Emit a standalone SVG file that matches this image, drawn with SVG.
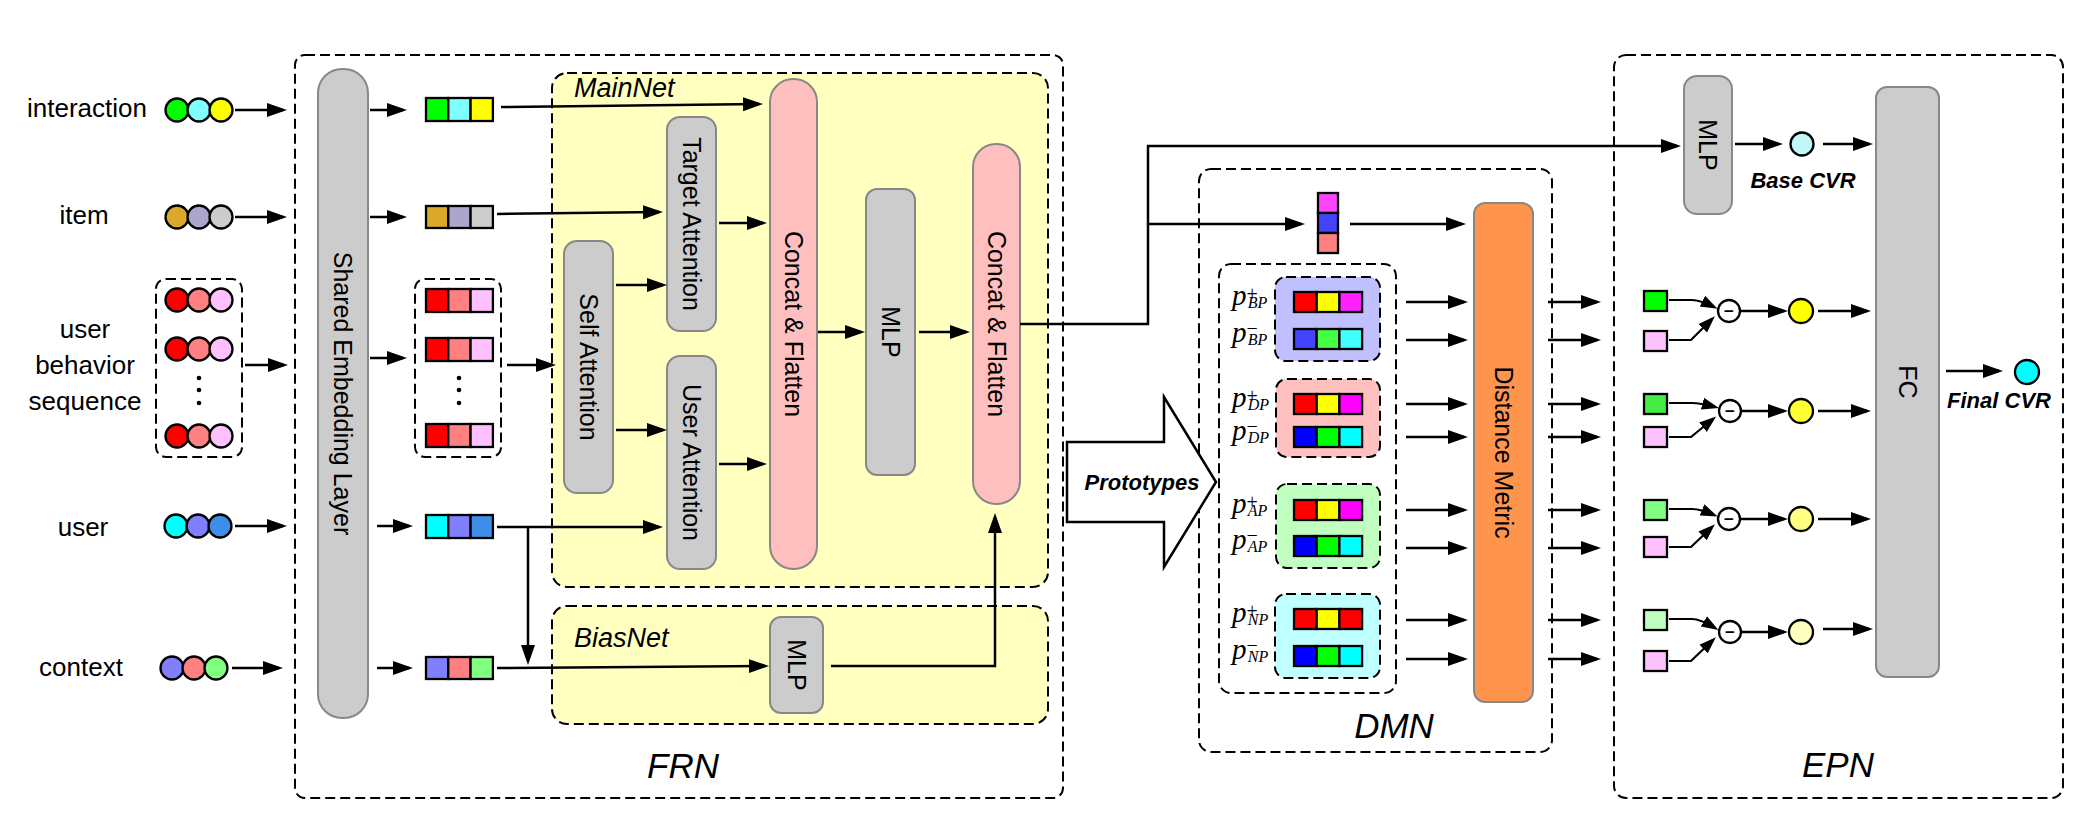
<svg xmlns="http://www.w3.org/2000/svg" width="2091" height="822" viewBox="0 0 2091 822">
<defs>
<marker id="ah" markerUnits="userSpaceOnUse" markerWidth="22" markerHeight="16" refX="16" refY="8" orient="auto"><path d="M0,1 L20,8 L0,15 Z" fill="#000"/></marker>
<marker id="ahs" markerUnits="userSpaceOnUse" markerWidth="18" markerHeight="14" refX="13" refY="7" orient="auto"><path d="M0,1 L17,7 L0,13 Z" fill="#000"/></marker>
</defs>
<style>
text{font-family:"Liberation Sans",Arial,Helvetica,sans-serif;fill:#000}
.lab{font-size:26px;text-anchor:middle}
.rot{font-size:25px;text-anchor:middle;dominant-baseline:central}
.big{font-size:35px;font-style:italic;text-anchor:middle}
.net{font-size:27px;font-style:italic}
.bi{font-size:22px;font-style:italic;font-weight:bold;text-anchor:middle}
.dash{fill:none;stroke:#000;stroke-width:2;stroke-dasharray:10 5}
.ybox{fill:#FFFFC0;stroke:#000;stroke-width:2;stroke-dasharray:10 5}
.gray{fill:#CCCCCC;stroke:#888;stroke-width:2}
.pink{fill:#FFBFBF;stroke:#888;stroke-width:2}
.ob{stroke:#000;stroke-width:2.3}
.cn{fill:none;stroke:#000;stroke-width:2.5;marker-end:url(#ah)}
.cs{fill:none;stroke:#000;stroke-width:2.2;marker-end:url(#ahs)}
.pm{font-family:"Liberation Serif","Times New Roman",serif;font-style:italic;font-size:29px}
.sp{font-style:normal;font-size:20px}
.sb{font-size:16px}
.op{font-size:17px;font-weight:bold;text-anchor:middle}
.dot{fill:#000}
</style>
<rect width="2091" height="822" fill="#fff"/>

<!-- containers -->
<g id="frn">
<rect class="dash" x="295" y="55" width="768" height="743" rx="10"/>
<text class="big" x="683" y="778">FRN</text>
</g>
<g id="mainnet">
<rect class="ybox" x="552" y="73" width="496" height="514" rx="15"/>
<text class="net" x="574" y="97">MainNet</text>
</g>
<g id="biasnet">
<rect class="ybox" x="552" y="606" width="496" height="118" rx="15"/>
<text class="net" x="574" y="647">BiasNet</text>
</g>
<g id="dmn">
<rect class="dash" x="1199" y="169" width="353" height="583" rx="12"/>
<text class="big" x="1394" y="738">DMN</text>
</g>
<g id="epn">
<rect class="dash" x="1614" y="55" width="449" height="743" rx="12"/>
<text class="big" x="1838" y="777">EPN</text>
</g>

<!-- inputs -->
<g id="in-interaction">
<text class="lab" x="87" y="117">interaction</text>
<circle class="ob" cx="177" cy="110" r="11.5" fill="#00FF00"/>
<circle class="ob" cx="199" cy="110" r="11.5" fill="#80FFFF"/>
<circle class="ob" cx="221" cy="110" r="11.5" fill="#FFFF00"/>
</g>
<g id="in-item">
<text class="lab" x="84" y="224">item</text>
<circle class="ob" cx="177" cy="217" r="11.5" fill="#DAA82A"/>
<circle class="ob" cx="199" cy="217" r="11.5" fill="#ABA6CC"/>
<circle class="ob" cx="221" cy="217" r="11.5" fill="#CCCCCC"/>
</g>
<g id="in-seq">
<text class="lab" x="85" y="338">user</text>
<text class="lab" x="85" y="374">behavior</text>
<text class="lab" x="85" y="410">sequence</text>
<rect class="dash" x="156" y="279" width="86" height="178" rx="10"/>
<circle class="ob" cx="177" cy="300" r="11.5" fill="#FF0000"/>
<circle class="ob" cx="199" cy="300" r="11.5" fill="#FF8080"/>
<circle class="ob" cx="221" cy="300" r="11.5" fill="#FFC0FF"/>
<circle class="ob" cx="177" cy="349" r="11.5" fill="#FF0000"/>
<circle class="ob" cx="199" cy="349" r="11.5" fill="#FF8080"/>
<circle class="ob" cx="221" cy="349" r="11.5" fill="#FFC0FF"/>
<circle class="dot" cx="199" cy="378" r="2.3"/>
<circle class="dot" cx="199" cy="390" r="2.3"/>
<circle class="dot" cx="199" cy="403" r="2.3"/>
<circle class="ob" cx="177" cy="436" r="11.5" fill="#FF0000"/>
<circle class="ob" cx="199" cy="436" r="11.5" fill="#FF8080"/>
<circle class="ob" cx="221" cy="436" r="11.5" fill="#FFC0FF"/>
</g>
<g id="in-user">
<text class="lab" x="83" y="536">user</text>
<circle class="ob" cx="176" cy="526" r="11.5" fill="#00FFFF"/>
<circle class="ob" cx="198" cy="526" r="11.5" fill="#8080FF"/>
<circle class="ob" cx="220" cy="526" r="11.5" fill="#3D8EE8"/>
</g>
<g id="in-context">
<text class="lab" x="81" y="676">context</text>
<circle class="ob" cx="172" cy="668" r="11.5" fill="#8080FF"/>
<circle class="ob" cx="194" cy="668" r="11.5" fill="#FF8080"/>
<circle class="ob" cx="216" cy="668" r="11.5" fill="#80FF80"/>
</g>

<g id="shared-embedding">
<rect class="gray" x="318" y="69" width="50" height="649" rx="24"/>
<text class="rot" transform="translate(343,393.5) rotate(90)">Shared Embedding Layer</text>
</g>

<!-- embeddings -->
<g id="emb-interaction">
<rect class="ob" x="426" y="98" width="22.3" height="23" fill="#00FF00"/>
<rect class="ob" x="448.3" y="98" width="22.3" height="23" fill="#80FFFF"/>
<rect class="ob" x="470.6" y="98" width="22.3" height="23" fill="#FFFF00"/>
</g>
<g id="emb-item">
<rect class="ob" x="426" y="206" width="22.3" height="22" fill="#DAA82A"/>
<rect class="ob" x="448.3" y="206" width="22.3" height="22" fill="#ABA6CC"/>
<rect class="ob" x="470.6" y="206" width="22.3" height="22" fill="#CCCCCC"/>
</g>
<g id="emb-seq">
<rect class="dash" x="415" y="279" width="86" height="178" rx="10"/>
<rect class="ob" x="426" y="289" width="22.3" height="23" fill="#FF0000"/>
<rect class="ob" x="448.3" y="289" width="22.3" height="23" fill="#FF8080"/>
<rect class="ob" x="470.6" y="289" width="22.3" height="23" fill="#FFC0FF"/>
<rect class="ob" x="426" y="338" width="22.3" height="23" fill="#FF0000"/>
<rect class="ob" x="448.3" y="338" width="22.3" height="23" fill="#FF8080"/>
<rect class="ob" x="470.6" y="338" width="22.3" height="23" fill="#FFC0FF"/>
<circle class="dot" cx="459" cy="378" r="2.3"/>
<circle class="dot" cx="459" cy="390" r="2.3"/>
<circle class="dot" cx="459" cy="403" r="2.3"/>
<rect class="ob" x="426" y="424" width="22.3" height="23" fill="#FF0000"/>
<rect class="ob" x="448.3" y="424" width="22.3" height="23" fill="#FF8080"/>
<rect class="ob" x="470.6" y="424" width="22.3" height="23" fill="#FFC0FF"/>
</g>
<g id="emb-user">
<rect class="ob" x="426" y="515" width="22.3" height="23" fill="#00FFFF"/>
<rect class="ob" x="448.3" y="515" width="22.3" height="23" fill="#8080FF"/>
<rect class="ob" x="470.6" y="515" width="22.3" height="23" fill="#3D8EE8"/>
</g>
<g id="emb-context">
<rect class="ob" x="426" y="657" width="22.3" height="22" fill="#8080FF"/>
<rect class="ob" x="448.3" y="657" width="22.3" height="22" fill="#FF8080"/>
<rect class="ob" x="470.6" y="657" width="22.3" height="22" fill="#80FF80"/>
</g>

<!-- FRN blocks -->
<g id="self-attention">
<rect class="gray" x="564" y="241" width="49" height="252" rx="13"/>
<text class="rot" transform="translate(588.5,367) rotate(90)">Self Attention</text>
</g>
<g id="target-attention">
<rect class="gray" x="667" y="117" width="49" height="214" rx="13"/>
<text class="rot" transform="translate(691.5,224) rotate(90)">Target Attention</text>
</g>
<g id="user-attention">
<rect class="gray" x="667" y="356" width="49" height="213" rx="13"/>
<text class="rot" transform="translate(691.5,462.5) rotate(90)">User Attention</text>
</g>
<g id="concat1">
<rect class="pink" x="770" y="79" width="47" height="490" rx="23"/>
<text class="rot" transform="translate(793.5,324) rotate(90)">Concat &amp; Flatten</text>
</g>
<g id="mlp-main">
<rect class="gray" x="866" y="189" width="49" height="286" rx="11"/>
<text class="rot" transform="translate(890.5,332) rotate(90)">MLP</text>
</g>
<g id="concat2">
<rect class="pink" x="973" y="144" width="47" height="360" rx="23"/>
<text class="rot" transform="translate(996.5,324) rotate(90)">Concat &amp; Flatten</text>
</g>
<g id="mlp-bias">
<rect class="gray" x="770" y="617" width="53" height="96" rx="11"/>
<text class="rot" transform="translate(796.5,665) rotate(90)">MLP</text>
</g>

<!-- Prototypes arrow -->
<g id="prototypes">
<polygon points="1067,442 1164,442 1164,397 1216,482 1164,567 1164,522 1067,522" fill="#fff" stroke="#000" stroke-width="2.5" stroke-linejoin="miter"/>
<text class="bi" x="1142" y="490">Prototypes</text>
</g>

<!-- DMN -->
<g id="user-vector">
<rect class="ob" x="1318" y="193" width="20" height="20" fill="#FF44FF"/>
<rect class="ob" x="1318" y="213" width="20" height="20" fill="#4444FF"/>
<rect class="ob" x="1318" y="233" width="20" height="20" fill="#FF8080"/>
</g>
<g id="prototype-set">
<rect class="dash" x="1219" y="264" width="177" height="429" rx="12"/>
</g>
<g id="proto-bp">
<rect class="dash" x="1275" y="277" width="105" height="84" rx="11" style="fill:#C0C0FF"/>
<rect class="ob" x="1294" y="292" width="22.7" height="20" fill="#FF0000"/>
<rect class="ob" x="1316.7" y="292" width="22.7" height="20" fill="#FFFF00"/>
<rect class="ob" x="1339.4" y="292" width="22.7" height="20" fill="#FF22FF"/>
<rect class="ob" x="1294" y="329" width="22.7" height="20" fill="#4444FF"/>
<rect class="ob" x="1316.7" y="329" width="22.7" height="20" fill="#44FF44"/>
<rect class="ob" x="1339.4" y="329" width="22.7" height="20" fill="#44FFFF"/>
<text class="pm" x="1232" y="305">p<tspan class="sp" dx="0" dy="-4">+</tspan><tspan class="sb" dx="-10" dy="7">BP</tspan></text>
<text class="pm" x="1232" y="342">p<tspan class="sp" dx="0" dy="-7">−</tspan><tspan class="sb" dx="-10" dy="10">BP</tspan></text>
</g>
<g id="proto-dp">
<rect class="dash" x="1276" y="379" width="104" height="78" rx="11" style="fill:#FFC0C0"/>
<rect class="ob" x="1294" y="394" width="22.7" height="20" fill="#FF0000"/>
<rect class="ob" x="1316.7" y="394" width="22.7" height="20" fill="#FFFF00"/>
<rect class="ob" x="1339.4" y="394" width="22.7" height="20" fill="#FF00FF"/>
<rect class="ob" x="1294" y="427" width="22.7" height="20" fill="#0000FF"/>
<rect class="ob" x="1316.7" y="427" width="22.7" height="20" fill="#00FF00"/>
<rect class="ob" x="1339.4" y="427" width="22.7" height="20" fill="#00FFFF"/>
<text class="pm" x="1232" y="407">p<tspan class="sp" dx="0" dy="-4">+</tspan><tspan class="sb" dx="-10" dy="7">DP</tspan></text>
<text class="pm" x="1232" y="440">p<tspan class="sp" dx="0" dy="-7">−</tspan><tspan class="sb" dx="-10" dy="10">DP</tspan></text>
</g>
<g id="proto-ap">
<rect class="dash" x="1276" y="484" width="104" height="84" rx="11" style="fill:#C0FFC0"/>
<rect class="ob" x="1294" y="500" width="22.7" height="20" fill="#FF0000"/>
<rect class="ob" x="1316.7" y="500" width="22.7" height="20" fill="#FFFF00"/>
<rect class="ob" x="1339.4" y="500" width="22.7" height="20" fill="#FF00FF"/>
<rect class="ob" x="1294" y="536" width="22.7" height="20" fill="#0000FF"/>
<rect class="ob" x="1316.7" y="536" width="22.7" height="20" fill="#00FF00"/>
<rect class="ob" x="1339.4" y="536" width="22.7" height="20" fill="#00FFFF"/>
<text class="pm" x="1232" y="513">p<tspan class="sp" dx="0" dy="-4">+</tspan><tspan class="sb" dx="-10" dy="7">AP</tspan></text>
<text class="pm" x="1232" y="549">p<tspan class="sp" dx="0" dy="-7">−</tspan><tspan class="sb" dx="-10" dy="10">AP</tspan></text>
</g>
<g id="proto-np">
<rect class="dash" x="1275" y="594" width="105" height="84" rx="11" style="fill:#C0FFFF"/>
<rect class="ob" x="1294" y="609" width="22.7" height="20" fill="#FF0000"/>
<rect class="ob" x="1316.7" y="609" width="22.7" height="20" fill="#FFFF00"/>
<rect class="ob" x="1339.4" y="609" width="22.7" height="20" fill="#FF0000"/>
<rect class="ob" x="1294" y="646" width="22.7" height="20" fill="#0000FF"/>
<rect class="ob" x="1316.7" y="646" width="22.7" height="20" fill="#00FF00"/>
<rect class="ob" x="1339.4" y="646" width="22.7" height="20" fill="#00FFFF"/>
<text class="pm" x="1232" y="622">p<tspan class="sp" dx="0" dy="-4">+</tspan><tspan class="sb" dx="-10" dy="7">NP</tspan></text>
<text class="pm" x="1232" y="659">p<tspan class="sp" dx="0" dy="-7">−</tspan><tspan class="sb" dx="-10" dy="10">NP</tspan></text>
</g>
<g id="distance-metric">
<rect x="1474" y="203" width="59" height="499" rx="11" fill="#FF944D" stroke="#888" stroke-width="2"/>
<text class="rot" transform="translate(1503.5,452.5) rotate(90)">Distance Metric</text>
</g>

<!-- EPN -->
<g id="mlp-epn">
<rect class="gray" x="1684" y="76" width="48" height="138" rx="13"/>
<text class="rot" transform="translate(1708,145) rotate(90)">MLP</text>
</g>
<g id="base-cvr">
<circle class="ob" cx="1802" cy="144" r="11.5" fill="#C0F8F8"/>
<text class="bi" x="1803" y="188">Base CVR</text>
</g>
<g id="fc">
<rect class="gray" x="1876" y="87" width="63" height="590" rx="11"/>
<text class="rot" transform="translate(1907.5,382) rotate(90)">FC</text>
</g>
<g id="final-cvr">
<circle class="ob" cx="2027" cy="372" r="12" fill="#00FFFF"/>
<text class="bi" x="1999" y="408">Final CVR</text>
</g>
<g id="epn-row1">
<rect class="ob" x="1644" y="291" width="23" height="20" fill="#00FF00"/>
<rect class="ob" x="1644" y="331" width="23" height="20" fill="#FFC0FF"/>
<circle class="ob" cx="1729" cy="311" r="11" fill="#fff"/>
<text class="op" x="1729" y="317">−</text>
<circle class="ob" cx="1801" cy="311" r="12" fill="#FFFF00"/>
</g>
<g id="epn-row2">
<rect class="ob" x="1644" y="394" width="23" height="20" fill="#44EE44"/>
<rect class="ob" x="1644" y="427" width="23" height="20" fill="#FFC0FF"/>
<circle class="ob" cx="1730" cy="411" r="11" fill="#fff"/>
<text class="op" x="1730" y="417">−</text>
<circle class="ob" cx="1801" cy="411" r="12" fill="#FFFF33"/>
</g>
<g id="epn-row3">
<rect class="ob" x="1644" y="500" width="23" height="20" fill="#80FF80"/>
<rect class="ob" x="1644" y="537" width="23" height="20" fill="#FFC0FF"/>
<circle class="ob" cx="1729" cy="519" r="11" fill="#fff"/>
<text class="op" x="1729" y="525">−</text>
<circle class="ob" cx="1801" cy="519" r="12" fill="#FFFF80"/>
</g>
<g id="epn-row4">
<rect class="ob" x="1644" y="610" width="23" height="20" fill="#C0FFC0"/>
<rect class="ob" x="1644" y="651" width="23" height="20" fill="#FFC0FF"/>
<circle class="ob" cx="1730" cy="632" r="11" fill="#fff"/>
<text class="op" x="1730" y="638">−</text>
<circle class="ob" cx="1801" cy="632" r="12" fill="#FFFFC0"/>
</g>

<!-- connectors -->
<g id="connectors">
<path class="cn" d="M235,110 H283"/>
<path class="cn" d="M235,217 H283"/>
<path class="cn" d="M245,365 H284"/>
<path class="cn" d="M235,526 H283"/>
<path class="cn" d="M232,668 H279"/>
<path class="cn" d="M370,110 H403"/>
<path class="cn" d="M370,217 H403"/>
<path class="cn" d="M370,358 H403"/>
<path class="cn" d="M377,526 H409"/>
<path class="cn" d="M377,668 H409"/>
<path class="cn" d="M501,107 L759,104"/>
<path class="cn" d="M497,214 L659,212"/>
<path class="cn" d="M507,365 H552"/>
<path class="cn" d="M497,527 H659"/>
<path class="cn" d="M528,527 V661"/>
<path class="cn" d="M497,668 L765,666"/>
<path class="cn" d="M616,285 H663"/>
<path class="cn" d="M616,430 H663"/>
<path class="cn" d="M719,223 H763"/>
<path class="cn" d="M719,464 H763"/>
<path class="cn" d="M818,332 H861"/>
<path class="cn" d="M919,332 H966"/>
<path class="cn" d="M831,666 H995 V517"/>
<path class="cn" d="M1020,324 H1148 V146 H1677"/>
<path class="cn" d="M1148,224 H1301"/>
<path class="cn" d="M1350,224 H1462"/>
<path class="cn" d="M1406,302 H1464"/>
<path class="cn" d="M1406,340 H1464"/>
<path class="cn" d="M1406,404 H1464"/>
<path class="cn" d="M1406,437 H1464"/>
<path class="cn" d="M1406,510 H1464"/>
<path class="cn" d="M1406,548 H1464"/>
<path class="cn" d="M1406,620 H1464"/>
<path class="cn" d="M1406,659 H1464"/>
<path class="cn" d="M1548,302 H1597"/>
<path class="cn" d="M1548,340 H1597"/>
<path class="cn" d="M1548,404 H1597"/>
<path class="cn" d="M1548,437 H1597"/>
<path class="cn" d="M1548,510 H1597"/>
<path class="cn" d="M1548,548 H1597"/>
<path class="cn" d="M1548,620 H1597"/>
<path class="cn" d="M1548,659 H1597"/>
<path class="cs" d="M1669,300 H1692 Q1700,300 1714,307"/>
<path class="cs" d="M1669,340 H1691 L1712,319"/>
<path class="cs" d="M1669,403 H1692 Q1700,403 1715,407"/>
<path class="cs" d="M1669,437 H1691 L1713,419"/>
<path class="cs" d="M1669,509 H1692 Q1700,509 1714,515"/>
<path class="cs" d="M1669,547 H1691 L1712,527"/>
<path class="cs" d="M1669,619 H1692 Q1700,619 1715,628"/>
<path class="cs" d="M1669,661 H1691 L1713,640"/>
<path class="cn" d="M1741,311 H1784"/>
<path class="cn" d="M1742,411 H1784"/>
<path class="cn" d="M1741,519 H1784"/>
<path class="cn" d="M1742,632 H1784"/>
<path class="cn" d="M1818,311 H1867"/>
<path class="cn" d="M1818,411 H1867"/>
<path class="cn" d="M1818,519 H1867"/>
<path class="cn" d="M1823,629 H1869"/>
<path class="cn" d="M1735,144 H1779"/>
<path class="cn" d="M1823,144 H1869"/>
<path class="cn" d="M1946,371 H1999"/>
</g>
</svg>
